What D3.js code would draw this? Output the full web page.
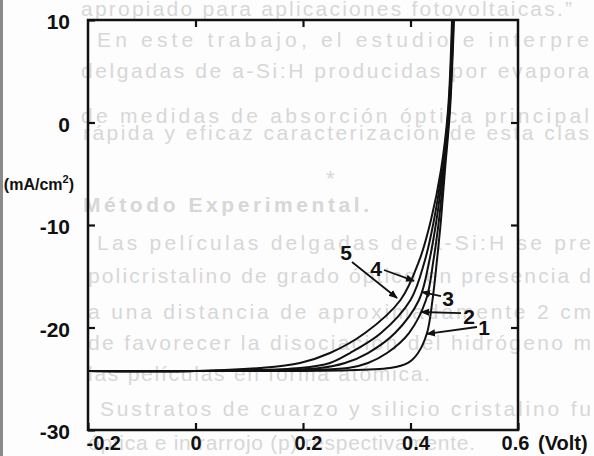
<!DOCTYPE html>
<html><head><meta charset="utf-8">
<script src="https://cdn.jsdelivr.net/npm/d3@7"></script>
<style>html,body{margin:0;padding:0;background:#fff;overflow:hidden}</style>
</head><body>
<svg id="chart" width="594" height="456"></svg>
<script>
// ---------------- data ----------------
const xTicks = [-0.2, 0, 0.2, 0.4, 0.6];
const xTickLabels = ["-0.2", "0", "0.2", "0.4", "0.6"];
const yTicks = [10, 0, -10, -20, -30];
const yTickLabels = ["10", "0", "-10", "-20", "-30"];
const curveNames = ["1", "2", "3", "4", "5"];
const plateauVoltage = [-0.2, 0.0];
const plateauCurrent = -24.24;
const currentLevels = [10, 1.22, -4.63, -9.51, -13.41, -17.32, -20.54, -22.49, -23.46, -23.95];
const voltage1 = [0.4809, 0.4735, 0.4642, 0.4567, 0.4493, 0.4409, 0.4307, 0.4140, 0.3953, 0.3619];
const voltage2 = [0.4800, 0.4726, 0.4623, 0.4530, 0.4428, 0.4288, 0.3972, 0.3563, 0.3209, 0.2837];
const voltage3 = [0.4791, 0.4716, 0.4605, 0.4484, 0.4353, 0.4158, 0.3712, 0.3209, 0.2781, 0.2316];
const voltage4 = [0.4781, 0.4707, 0.4586, 0.4437, 0.4270, 0.4000, 0.3451, 0.2874, 0.2502, 0.1944];
const voltage5 = [0.4772, 0.4698, 0.4567, 0.4381, 0.4167, 0.3814, 0.3154, 0.2502, 0.1944, 0.1200];
// curve label annotations (data units): [label V, label J, arrow start V, J, arrow tip V, J]
const labelPos = [
  [0.5367, -19.95, 0.5237, -19.95, 0.4307, -20.63],
  [0.5088, -18.88, 0.4940, -18.59, 0.4195, -18.49],
  [0.4698, -17.12, 0.4567, -16.93, 0.4214, -16.54],
  [0.3358, -14.20, 0.3507, -14.39, 0.4065, -15.46],
  [0.2800, -12.63, 0.2912, -13.61, 0.3749, -17.12]
];

// faint text of the scanned page showing through (text, x, baseline y, bold, length)
const bleedLines = [
  ["apropiado para aplicaciones fotovoltaicas.\u201D", 81, 16, false, 491],
  ["En este trabajo, el estudio e interpre", 97, 47, false, 492],
  ["delgadas de a-Si:H producidas por evapora", 81, 78, false, 508],
  ["de medidas de absorción óptica principal", 81, 123, false, 508],
  ["rápida y eficaz caracterización de esta clas", 83, 140, false, 506],
  ["Método  Experimental.", 83, 212, true, 286],
  ["Las películas delgadas de a-Si:H se pre", 97, 250, false, 494],
  ["policristalino de grado óptico en presencia d", 88, 283, false, 503],
  ["a una distancia de aproximadamente 2 cm", 88, 319, false, 503],
  ["de favorecer la disociación del hidrógeno m", 88, 350, false, 503],
  ["las películas en forma atómica.", 88, 381, false, 342],
  ["Sustratos de cuarzo y silicio cristalino fu", 100, 416, false, 491],
  ["óptica e infrarrojo (p) respectivamente.", 88, 450, false, 387]
];

// ---------------- drawing ----------------
const svg = d3.select("#chart");
svg.append("rect").attr("width", 594).attr("height", 456).attr("fill", "#fdfdfd");

const bleed = svg.append("g").attr("fill", "#d7d7d7")
  .attr("font-family", "Liberation Sans, Arial, sans-serif").attr("font-size", 21);
bleed.selectAll("text").data(bleedLines).join("text")
  .attr("x", d => d[1]).attr("y", d => d[2])
  .attr("font-weight", d => d[3] ? "bold" : "normal")
  .attr("textLength", d => d[4])
  .attr("lengthAdjust", "spacing")
  .text(d => d[0]);
bleed.append("text").attr("x", 326).attr("y", 186).attr("font-size", 22).text("*");

svg.append("rect").attr("x", 0).attr("y", 0).attr("width", 3).attr("height", 456).attr("fill", "#8c8c8c");

const x = d3.scaleLinear().domain([-0.2, 0.6]).range([88, 518]);
const y = d3.scaleLinear().domain([-30, 10]).range([430, 20]);

const defs = svg.append("defs");
defs.append("clipPath").attr("id", "plotclip")
  .append("rect").attr("x", 88).attr("y", 20).attr("width", 430).attr("height", 410);

const series = [voltage1, voltage2, voltage3, voltage4, voltage5].map(vs => {
  const pts = plateauVoltage.map(v => [v, plateauCurrent]);
  const up = vs.map((v, i) => [v, currentLevels[i]]).reverse();
  return pts.concat(up);
});

const line = d3.line().x(d => x(d[0])).y(d => y(d[1])).curve(d3.curveCatmullRom.alpha(0.5));
svg.append("g").attr("clip-path", "url(#plotclip)")
  .selectAll("path").data(series).join("path")
  .attr("d", line).attr("fill", "none").attr("stroke", "#111")
  .attr("stroke-width", 2).attr("stroke-linejoin", "round");

// frame
svg.append("rect").attr("x", x(-0.2)).attr("y", y(10))
  .attr("width", x(0.6) - x(-0.2)).attr("height", y(-30) - y(10))
  .attr("fill", "none").attr("stroke", "#111").attr("stroke-width", 2.5);

const fontFam = "Liberation Sans, Arial, Helvetica, sans-serif";
function styleAxis(g) {
  g.select(".domain").remove();
  g.selectAll(".tick line").attr("stroke", "#111").attr("stroke-width", 2.2);
  g.selectAll(".tick text").attr("fill", "#111").attr("font-family", fontFam)
    .attr("font-size", 21).attr("font-weight", "bold");
}

const gl = svg.append("g").attr("transform", `translate(${x(-0.2)},0)`)
  .call(d3.axisLeft(y).tickValues(yTicks).tickSize(-7).tickPadding(18)
    .tickFormat((d, i) => yTickLabels[i]));
styleAxis(gl);
gl.selectAll(".tick text").attr("dy", "0.42em");

const gr = svg.append("g").attr("transform", `translate(${x(0.6)},0)`)
  .call(d3.axisRight(y).tickValues([0, -10, -20]).tickSize(-7).tickFormat(""));
styleAxis(gr);

const gt = svg.append("g").attr("transform", `translate(0,${y(10)})`)
  .call(d3.axisTop(x).tickValues([0, 0.2, 0.4]).tickSize(-7).tickFormat(""));
styleAxis(gt);

const gb = svg.append("g").attr("transform", `translate(0,${y(-30)})`)
  .call(d3.axisBottom(x).tickValues(xTicks).tickSize(-7).tickPadding(6)
    .tickFormat((d, i) => xTickLabels[i]));
styleAxis(gb);
gb.selectAll(".tick text").attr("font-size", 20);
gb.selectAll(".tick text").filter(d => d === -0.2).attr("text-anchor", "start").attr("dx", -2);
gb.selectAll(".tick text").filter(d => d === 0.2 || d === 0.4).attr("dx", 5);
gb.selectAll(".tick text").filter(d => d === 0.6).attr("dx", -3);

svg.append("text").attr("x", x(0.6) + 20).attr("y", y(-30) + 20)
  .attr("font-family", fontFam).attr("font-size", 20).attr("font-weight", "bold")
  .attr("fill", "#111").text("(Volt)");

// y-axis title
const yt = svg.append("text").attr("x", 74).attr("y", 190).attr("text-anchor", "end")
  .attr("font-family", fontFam).attr("font-size", 16).attr("font-weight", "bold")
  .attr("fill", "#111");
yt.append("tspan").text("(mA/cm");
yt.append("tspan").attr("dy", -7).attr("font-size", 11).text("2");
yt.append("tspan").attr("dy", 7).text(")");

// curve labels with arrows
defs.append("marker").attr("id", "arr").attr("viewBox", "0 0 10 10")
  .attr("refX", 9).attr("refY", 5).attr("markerWidth", 9).attr("markerHeight", 9)
  .attr("markerUnits", "userSpaceOnUse").attr("orient", "auto")
  .append("path").attr("d", "M0,1 L10,5 L0,9 Z").attr("fill", "#111");

const ann = svg.append("g");
ann.selectAll("line").data(labelPos).join("line")
  .attr("x1", d => x(d[2])).attr("y1", d => y(d[3]))
  .attr("x2", d => x(d[4])).attr("y2", d => y(d[5]))
  .attr("stroke", "#111").attr("stroke-width", 1.8).attr("marker-end", "url(#arr)");
ann.selectAll("text").data(labelPos).join("text")
  .attr("x", d => x(d[0])).attr("y", d => y(d[1])).attr("dy", "0.36em")
  .attr("text-anchor", "middle").attr("font-family", fontFam)
  .attr("font-size", 21).attr("font-weight", "bold").attr("fill", "#111")
  .text((d, i) => curveNames[i]);
</script>
</body></html>
